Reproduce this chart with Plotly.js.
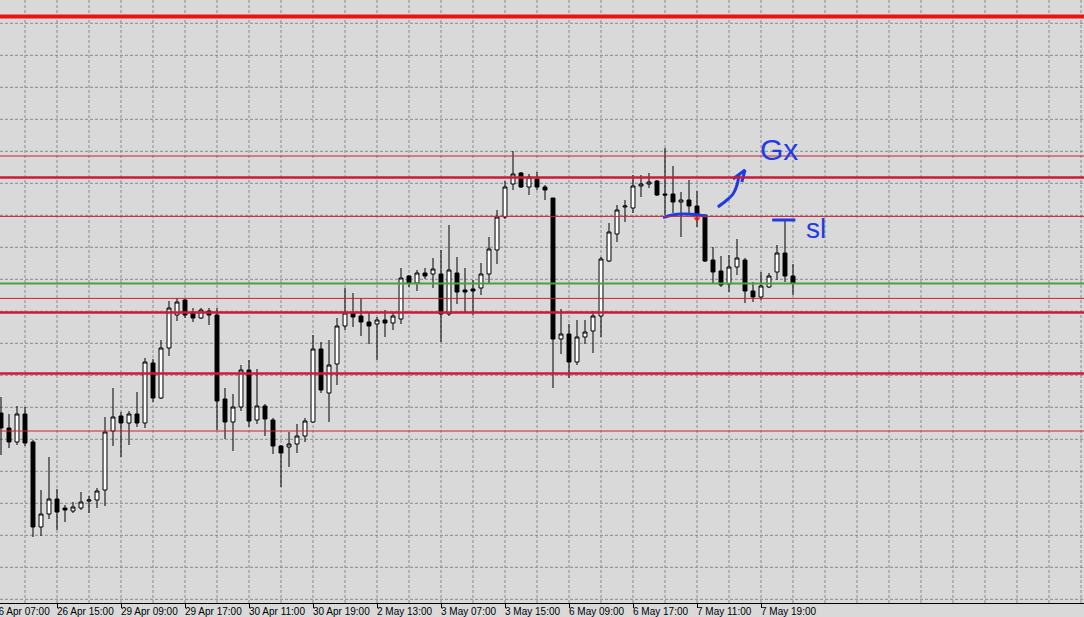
<!DOCTYPE html>
<html><head><meta charset="utf-8">
<script src="https://cdn.plot.ly/plotly-3.0.1.min.js"></script>
<style>html,body{margin:0;padding:0;background:#d9d9d9;}#chart{width:1084px;height:617px;}</style>
</head><body><div id="chart"></div>
<script>
// H1 candles (bar index 0..99)
const openP  = [1.30935,1.30860,1.30790,1.30930,1.30790,1.30365,1.30430,1.30505,1.30460,1.30445,
                1.30460,1.30495,1.30500,1.30550,1.30845,1.30920,1.30885,1.30930,1.30885,1.31185,
                1.31010,1.31260,1.31425,1.31500,1.31435,1.31410,1.31445,1.31425,1.31005,1.30890,
                1.30965,1.31150,1.30900,1.30970,1.30900,1.30770,1.30765,1.30780,1.30820,1.30890,
                1.31255,1.31035,1.31180,1.31370,1.31435,1.31420,1.31390,1.31380,1.31400,1.31385,
                1.31405,1.31620,1.31585,1.31635,1.31630,1.31630,1.31430,1.31635,1.31550,1.31555,
                1.31560,1.31630,1.31750,1.31915,1.32080,1.32135,1.32065,1.32105,1.32065,1.32010,
                1.31305,1.31330,1.31190,1.31315,1.31345,1.31420,1.31695,1.31830,1.31965,1.31960,
                1.32070,1.32080,1.32095,1.32030,1.32030,1.31990,1.32000,1.31970,1.31925,1.31700,
                1.31645,1.31580,1.31665,1.31700,1.31545,1.31515,1.31565,1.31640,1.31735,1.31620];
const highP  = [1.31015,1.30930,1.30970,1.30965,1.30800,1.30550,1.30715,1.30555,1.30475,1.30490,
                1.30540,1.30520,1.30560,1.30915,1.31060,1.30940,1.30945,1.31040,1.31210,1.31205,
                1.31300,1.31495,1.31510,1.31505,1.31460,1.31460,1.31460,1.31460,1.31060,1.31030,
                1.31175,1.31200,1.31155,1.30980,1.30910,1.30775,1.30840,1.30880,1.30910,1.31325,
                1.31290,1.31300,1.31410,1.31560,1.31535,1.31510,1.31435,1.31415,1.31450,1.31435,
                1.31660,1.31625,1.31650,1.31660,1.31710,1.31750,1.31875,1.31715,1.31660,1.31600,
                1.31685,1.31815,1.31950,1.32095,1.32245,1.32140,1.32130,1.32140,1.32075,1.32010,
                1.31455,1.31380,1.31400,1.31400,1.31445,1.31715,1.31885,1.31975,1.32000,1.32125,
                1.32125,1.32135,1.32100,1.32260,1.32170,1.32040,1.32100,1.32045,1.31925,1.31765,
                1.31720,1.31725,1.31805,1.31710,1.31590,1.31640,1.31635,1.31775,1.31895,1.31680];
const lowP   = [1.30725,1.30760,1.30775,1.30770,1.30315,1.30320,1.30405,1.30350,1.30390,1.30435,
                1.30450,1.30435,1.30460,1.30470,1.30770,1.30715,1.30775,1.30865,1.30860,1.30990,
                1.31005,1.31220,1.31395,1.31410,1.31390,1.31405,1.31375,1.30850,1.30805,1.30745,
                1.30945,1.30865,1.30880,1.30820,1.30730,1.30565,1.30665,1.30735,1.30790,1.30885,
                1.31035,1.30890,1.31075,1.31350,1.31365,1.31320,1.31280,1.31200,1.31315,1.31350,
                1.31380,1.31565,1.31545,1.31605,1.31560,1.31290,1.31420,1.31480,1.31440,1.31425,
                1.31525,1.31585,1.31680,1.31905,1.32050,1.32060,1.32025,1.32050,1.32000,1.31060,
                1.31230,1.31110,1.31175,1.31280,1.31235,1.31315,1.31690,1.31790,1.31890,1.31935,
                1.32015,1.32060,1.32020,1.31925,1.31935,1.31815,1.31930,1.31865,1.31690,1.31585,
                1.31565,1.31540,1.31625,1.31485,1.31490,1.31500,1.31560,1.31600,1.31590,1.31525];
const closeP = [1.30860,1.30790,1.30930,1.30785,1.30365,1.30430,1.30505,1.30440,1.30450,1.30465,
                1.30490,1.30500,1.30545,1.30840,1.30915,1.30885,1.30930,1.30885,1.31190,1.31010,
                1.31260,1.31460,1.31490,1.31425,1.31410,1.31450,1.31425,1.30995,1.30890,1.30965,
                1.31150,1.30895,1.30970,1.30905,1.30770,1.30735,1.30780,1.30820,1.30895,1.31255,
                1.31050,1.31175,1.31370,1.31435,1.31415,1.31390,1.31370,1.31400,1.31385,1.31420,
                1.31610,1.31585,1.31635,1.31620,1.31655,1.31430,1.31650,1.31540,1.31540,1.31545,
                1.31630,1.31755,1.31915,1.32065,1.32130,1.32065,1.32115,1.32065,1.32050,1.31305,
                1.31330,1.31190,1.31315,1.31340,1.31420,1.31705,1.31840,1.31950,1.31970,1.32070,
                1.32080,1.32090,1.32025,1.32025,1.31990,1.32000,1.31970,1.31925,1.31695,1.31640,
                1.31575,1.31665,1.31710,1.31545,1.31515,1.31570,1.31620,1.31735,1.31620,1.31585];
const barIndex = openP.map((_, i) => i);

// time axis labels (bar index -> label)
const tickBars   = [-1, 7, 15, 23, 31, 39, 47, 55, 63, 71, 79, 87, 95];
const tickLabels = ['26 Apr 07:00','26 Apr 15:00','29 Apr 09:00','29 Apr 17:00','30 Apr 11:00',
                    '30 Apr 19:00','2 May 13:00','3 May 07:00','3 May 15:00','6 May 09:00',
                    '6 May 17:00','7 May 11:00','7 May 19:00'];

// horizontal levels
const topLevels   = [1.32918];
const thickLevels = [1.32112, 1.31437, 1.31132];
const thinLevels  = [1.32220, 1.31918, 1.31508, 1.30845];
const greenLevels = [1.31583];

// hand drawn marks (bar index, price)
const neckX  = [82.75, 83.9, 85.25, 86.75, 88.25];
const neckY  = [1.31912, 1.31925, 1.31930, 1.31928, 1.31918];
const arrowX = [89.6, 90.6, 91.5, 92.0, 92.25];
const arrowY = [1.31965, 1.31995, 1.32030, 1.32075, 1.32125];
const headX  = [91.5, 93.0, 92.6];
const headY  = [1.32105, 1.32150, 1.32090];
const slBarX = [96.4, 99.3];
const slBarY = [1.31900, 1.31900];
const tradeMarkX = [87];
const tradeMarkY = [1.31905];
const notes = [{text: 'Gx', x: 97.3, y: 1.32255, size: 30}, {text: 'sl', x: 101.9, y: 1.31860, size: 28}];

const blue = '#1f3be6';
const xRange = [-0.125, 135.375];
const yRange = [1.29985, 1.33];
const gridStepX = 4, gridStartX = 3, gridStepY = 0.0016, gridStartY = 1.328835;

const traces = [
  {type: 'candlestick', x: barIndex, open: openP, high: highP, low: lowP, close: closeP,
   increasing: {line: {color: '#000000', width: 1}, fillcolor: '#ffffff'},
   decreasing: {line: {color: '#000000', width: 1}, fillcolor: '#000000'},
   whiskerwidth: 0, showlegend: false, hoverinfo: 'none'},
  {type: 'scatter', mode: 'lines', x: neckX, y: neckY, line: {color: blue, width: 3, shape: 'spline'}, hoverinfo: 'none', showlegend: false},
  {type: 'scatter', mode: 'lines', x: arrowX, y: arrowY, line: {color: blue, width: 3, shape: 'spline'}, hoverinfo: 'none', showlegend: false},
  {type: 'scatter', mode: 'lines', x: headX, y: headY, line: {color: blue, width: 3}, hoverinfo: 'none', showlegend: false},
  {type: 'scatter', mode: 'lines', x: slBarX, y: slBarY, line: {color: blue, width: 3}, hoverinfo: 'none', showlegend: false},
  {type: 'scatter', mode: 'markers', x: tradeMarkX, y: tradeMarkY, marker: {symbol: 'triangle-down', size: 6, color: '#e0201a'}, hoverinfo: 'none', showlegend: false}
];

const shapes = [];
// dashed grid
for (let gx = gridStartX; gx <= xRange[1]; gx += gridStepX) {
  shapes.push({type: 'line', xref: 'x', yref: 'paper', x0: gx, x1: gx, y0: 0, y1: 1,
               line: {color: '#8a8a8a', width: 1, dash: '3px,2px'}, layer: 'below'});
}
for (let gy = gridStartY; gy >= yRange[0]; gy -= gridStepY) {
  shapes.push({type: 'line', xref: 'paper', yref: 'y', x0: 0, x1: 1, y0: gy, y1: gy,
               line: {color: '#8a8a8a', width: 1, dash: '3px,2px'}, layer: 'below'});
}
function hline(y, color, width) {
  return {type: 'line', xref: 'paper', x0: 0, x1: 1, yref: 'y', y0: y, y1: y,
          line: {color: color, width: width}, layer: 'above'};
}
topLevels.forEach(v => shapes.push(hline(v, '#f01010', 4)));
thickLevels.forEach(v => shapes.push(hline(v, '#cc1a3a', 2.5)));
thinLevels.forEach(v => shapes.push(hline(v, '#d02030', 1)));
greenLevels.forEach(v => shapes.push(hline(v, '#3fa63f', 2)));

const labelFont = {family: 'Liberation Sans, Arial, sans-serif', size: 10, color: '#000'};
const annotations = notes.map(n => ({x: n.x, y: n.y, xref: 'x', yref: 'y', text: n.text, showarrow: false,
  font: {family: 'Liberation Sans Narrow, Liberation Sans, sans-serif', size: n.size, color: blue}}));
// time labels drawn right of their tick, placed in paper units so the one left of the view still shows
const toPaper = b => (b - xRange[0]) / (xRange[1] - xRange[0]);
tickBars.forEach((b, i) => annotations.push({x: toPaper(b), xref: 'paper', xanchor: 'left', xshift: -2,
  y: 0, yref: 'paper', yanchor: 'top', yshift: -1, text: tickLabels[i], showarrow: false, font: labelFont}));

const layout = {
  width: 1084, height: 617,
  margin: {l: 0, r: 0, t: 0, b: 14, pad: 0},
  paper_bgcolor: '#d9d9d9', plot_bgcolor: '#d9d9d9',
  showlegend: false,
  xaxis: {
    range: xRange, fixedrange: true, rangeslider: {visible: false},
    tickmode: 'array', tickvals: tickBars, ticktext: tickBars.map(() => ''),
    ticks: 'outside', ticklen: 4, tickcolor: '#000', tickwidth: 1,
    showgrid: false, showline: true, linecolor: '#000', linewidth: 1, zeroline: false
  },
  yaxis: {
    range: yRange, fixedrange: true, showticklabels: false, ticks: '',
    showgrid: false, zeroline: false, showline: false
  },
  shapes: shapes,
  annotations: annotations
};
Plotly.newPlot('chart', traces, layout, {staticPlot: true, displayModeBar: false});
</script>
</body></html>
